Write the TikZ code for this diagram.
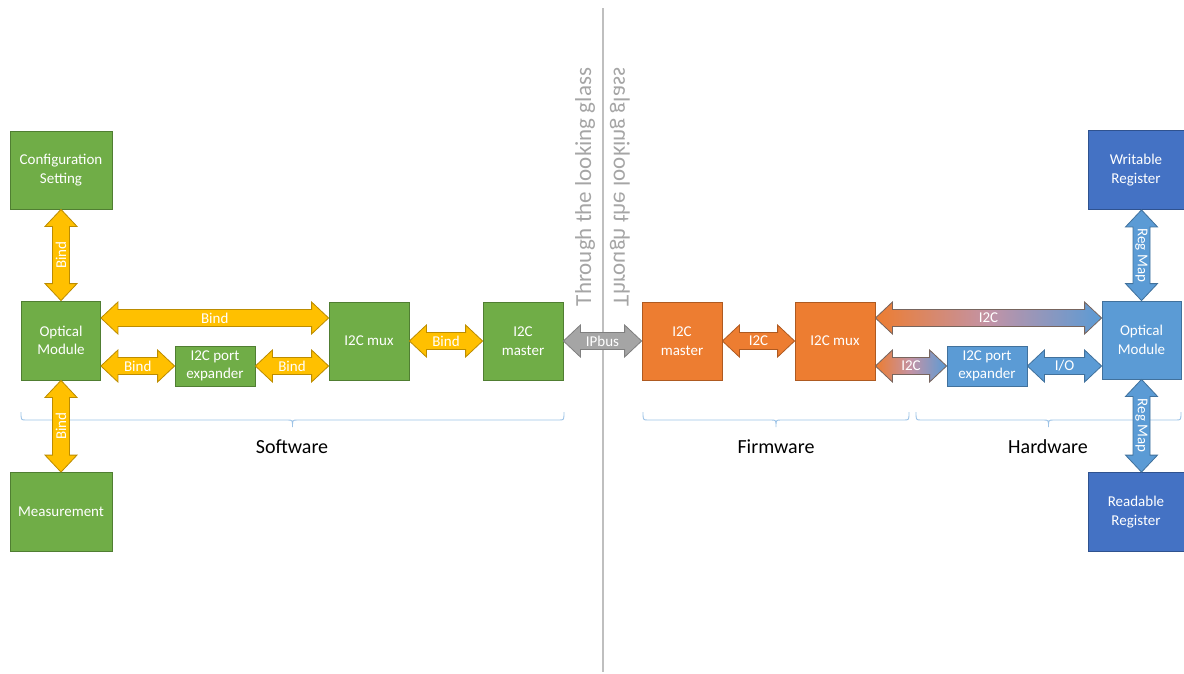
\documentclass[tikz,border=0pt]{standalone}
\usepackage{fontspec}
\setmainfont{Carlito}
\usepackage{graphicx}
\usetikzlibrary{calc}

\definecolor{grn}{HTML}{70AD47}
\definecolor{grnbd}{HTML}{507E32}
\definecolor{yel}{HTML}{FFC000}
\definecolor{yelbd}{HTML}{BC8C00}
\definecolor{org}{HTML}{ED7D31}
\definecolor{orgbd}{HTML}{AE5A21}
\definecolor{mauve}{HTML}{C293A6}
\definecolor{lblu}{HTML}{5B9BD5}
\definecolor{lblubd}{HTML}{41719C}
\definecolor{dblu}{HTML}{4472C4}
\definecolor{dblubd}{HTML}{2F528F}
\definecolor{gry}{HTML}{A5A5A5}
\definecolor{grybd}{HTML}{7F7F7F}
\definecolor{divcol}{HTML}{BFBFBF}
\definecolor{brcol}{HTML}{9DC3E6}

\newcommand{\boxfont}{\fontsize{15}{18.5}\selectfont}

% double block arrow, left to right
\newcommand{\harrow}[5]{%
  \path[#1] let \p1=(#2), \p2=(#3) in
    (\x1, \y1) -- (\x1+17pt, \y1+16pt) -- (\x1+17pt, \y1+8.5pt)
    -- (\x2-17pt, \y1+8.5pt) -- (\x2-17pt, \y1+16pt) -- (\x2, \y1)
    -- (\x2-17pt, \y1-16pt) -- (\x2-17pt, \y1-8.5pt)
    -- (\x1+17pt, \y1-8.5pt) -- (\x1+17pt, \y1-16pt) -- cycle
    node[alabel](#5) at ({(\x1+\x2)/2}, \y1){#4};}

% double block arrow, top to bottom
\newcommand{\varrow}[6]{%
  \path[#1] let \p1=(#2), \p2=(#3) in
    (\x1, \y1) -- (\x1+16pt, \y1-17pt) -- (\x1+8.5pt, \y1-17pt)
    -- (\x1+8.5pt, \y2+17pt) -- (\x1+16pt, \y2+17pt) -- (\x1, \y2)
    -- (\x1-16pt, \y2+17pt) -- (\x1-8.5pt, \y2+17pt)
    -- (\x1-8.5pt, \y1-17pt) -- (\x1-16pt, \y1-17pt) -- cycle
    node[alabel, rotate=#5](#6) at (\x1, {(\y1+\y2)/2}){#4};}

% flat brace with a small tip in the middle
\newcommand{\sbrace}[2]{%
  \draw [brc] let \p1=(#1), \p2=(#2), \n1={(\x1+\x2)/2} in
    (\x1, \y1) .. controls (\x1, \y1-8pt) .. (\x1+5pt, \y1-8pt)
    -- (\n1-5pt, \y1-8pt) .. controls (\n1, \y1-8pt) .. (\n1, \y1-15pt)
    .. controls (\n1, \y1-8pt) .. (\n1+5pt, \y1-8pt)
    -- (\x2-5pt, \y1-8pt) .. controls (\x2, \y1-8pt) .. (\x2, \y1);}

\tikzset{
  blk/.style={rectangle, inner sep=0pt, text=white, align=center,
    font=\boxfont, line width=0.8pt},
  gbox/.style={blk, fill=grn, draw=grnbd},
  obox/.style={blk, fill=org, draw=orgbd},
  bbox/.style={blk, fill=lblu, draw=lblubd},
  dbox/.style={blk, fill=dblu, draw=dblubd},
  alabel/.style={inner sep=0pt, text=white, font=\boxfont},
  yarr/.style={fill=yel, draw=yelbd, line width=0.8pt},
  garr/.style={fill=gry, draw=grybd, line width=0.8pt},
  oarr/.style={fill=org, draw=orgbd, line width=0.8pt},
  barr/.style={fill=lblu, draw=lblubd, line width=0.8pt},
  marr/.style={left color=org, right color=lblu, middle color=mauve,
    draw=orgbd!50!lblubd, line width=0.8pt},
  brc/.style={draw=brcol, line width=0.9pt},
  seclabel/.style={font=\fontsize{20}{24}\selectfont},
  glass/.style={text=gry, font=\fontsize{23}{27}\selectfont}
}

\begin{document}
\begin{tikzpicture}[x=1pt, y=-1pt]
    \useasboundingbox (0, 0) rectangle (1184, 673);

    % looking glass
    \draw [divcol, line width=2pt] (603, 8) -- (603, 672);
    \node[glass, rotate=90](thru) at (585, 187){Through the looking glass};
    \node[glass, rotate=90](urht) at (620, 187)
      {\scalebox{1}[-1]{Through the looking glass}};

    % braces
    \coordinate (swl) at (21, 412);
    \coordinate (swr) at (564, 412);
    \coordinate (fwl) at (643, 412);
    \coordinate (fwr) at (909, 412);
    \coordinate (hwl) at (916, 412);
    \coordinate (hwr) at (1181, 412);
    \sbrace{swl}{swr}
    \sbrace{fwl}{fwr}
    \sbrace{hwl}{hwr}
    \node[seclabel](sw) at (292, 447){Software};
    \node[seclabel](fw) at (776, 447){Firmware};
    \node[seclabel](hw) at (1048, 447){Hardware};

    % software side
    \node[gbox, minimum width=102pt, minimum height=78pt](cfg) at (61, 170)
      {Configuration\\Setting};
    \node[gbox, minimum width=79pt, minimum height=79pt](optg) at (61, 340.5)
      {Optical\\Module};
    \node[gbox, minimum width=102pt, minimum height=79pt](meas) at (61, 512)
      {Measurement};
    \node[gbox, minimum width=80pt, minimum height=40pt](pexg) at (215, 366)
      {I2C port\\expander};
    \node[gbox, minimum width=80pt, minimum height=78pt](muxg) at (369, 341)
      {I2C mux};
    \node[gbox, minimum width=80pt, minimum height=78pt](mstg) at (523, 341)
      {I2C\\master};

    % firmware side
    \node[obox, minimum width=80pt, minimum height=78pt](mstr) at (682, 341)
      {I2C\\master};
    \node[obox, minimum width=80pt, minimum height=78pt](muxr) at (835, 341)
      {I2C mux};

    % hardware side
    \node[bbox, minimum width=80pt, minimum height=40pt](pexb) at (987, 366)
      {I2C port\\expander};
    \node[bbox, minimum width=79pt, minimum height=78pt](optb) at (1141.5, 340)
      {Optical\\Module};
    \node[dbox, minimum width=96pt, minimum height=79pt](wreg) at (1136, 170)
      {Writable\\Register};
    \node[dbox, minimum width=96pt, minimum height=79pt](rreg) at (1136, 512)
      {Readable\\Register};

    % bind arrows
    \varrow{yarr}{cfg.south}{optg.north}{Bind}{90}{bnd1}
    \varrow{yarr}{optg.south}{meas.north}{Bind}{90}{bnd2}
    \coordinate (bndl) at ([yshift=22.5pt]optg.east);
    \coordinate (bndr) at (bndl -| muxg.west);
    \harrow{yarr}{bndl}{bndr}{Bind}{bnd3}
    \harrow{yarr}{optg.east |- pexg.west}{pexg.west}{Bind}{bnd4}
    \harrow{yarr}{pexg.east}{muxg.west |- pexg.east}{Bind}{bnd5}
    \harrow{yarr}{muxg.east}{mstg.west}{Bind}{bnd6}

    % IPbus
    \harrow{garr}{mstg.east}{mstr.west}{IPbus}{ipb}

    % I2C arrows
    \harrow{oarr}{mstr.east}{muxr.west}{I2C}{iic1}
    \coordinate (iicl) at ([yshift=23pt]muxr.east);
    \coordinate (iicr) at (iicl -| optb.west);
    \harrow{marr}{iicl}{iicr}{I2C}{iic2}
    \harrow{marr}{muxr.east |- pexb.west}{pexb.west}{I2C}{iic3}
    \harrow{barr}{pexb.east}{optb.west |- pexb.east}{I/O}{io}

    % reg map
    \varrow{barr}{wreg.south -| optb.north}{optb.north}{Reg Map}{-90}{rmap1}
    \varrow{barr}{optb.south}{rreg.north -| optb.south}{Reg Map}{-90}{rmap2}
\end{tikzpicture}
\end{document}
